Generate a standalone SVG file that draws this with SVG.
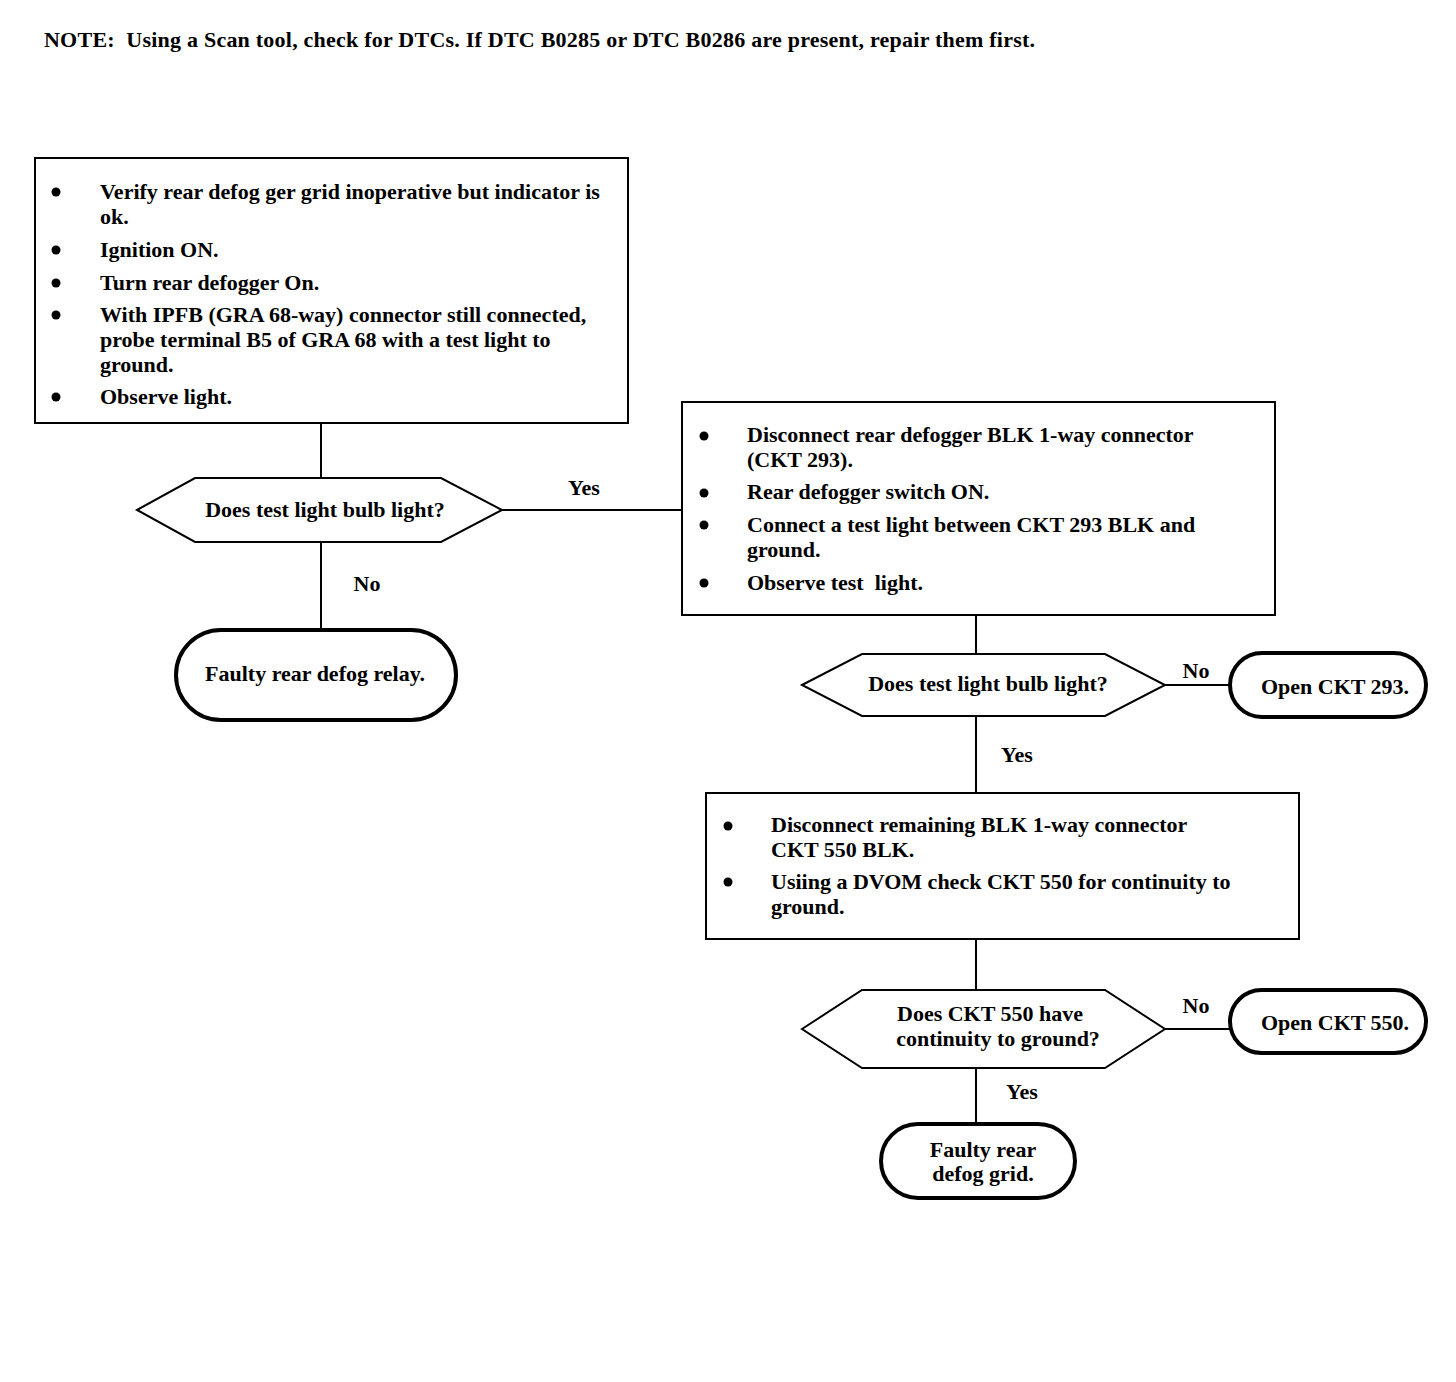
<svg xmlns="http://www.w3.org/2000/svg" width="1456" height="1382" viewBox="0 0 1456 1382">
<style>
text{font-family:"Liberation Serif","Times New Roman",serif;font-size:22px;font-weight:bold;fill:#000;white-space:pre}
.c{text-anchor:middle}
.box{fill:#fff;stroke:#000;stroke-width:2}
.dec{fill:#fff;stroke:#000;stroke-width:2}
.term{fill:#fff;stroke:#000;stroke-width:4}
.ln{stroke:#000;stroke-width:2;fill:none}
</style>
<rect width="1456" height="1382" fill="#fff"/>
<text x="44" y="47" textLength="991" lengthAdjust="spacing">NOTE:  Using a Scan tool, check for DTCs. If DTC B0285 or DTC B0286 are present, repair them first.</text>
<g id="connectors">
<path class="ln" d="M321 423V478"/>
<path class="ln" d="M502 510H682"/>
<path class="ln" d="M321 542V630"/>
<path class="ln" d="M976 615V654"/>
<path class="ln" d="M1165 685H1230"/>
<path class="ln" d="M976 716V793"/>
<path class="ln" d="M976 939V990"/>
<path class="ln" d="M1165 1029H1230"/>
<path class="ln" d="M976 1068V1125"/>
<text class="c" x="584" y="495">Yes</text>
<text class="c" x="367" y="591">No</text>
<text class="c" x="1196" y="678">No</text>
<text class="c" x="1017" y="762">Yes</text>
<text class="c" x="1196" y="1013">No</text>
<text class="c" x="1022" y="1099">Yes</text>
</g>
<g id="step1">
<rect class="box" x="35" y="158" width="593" height="265"/>
<circle cx="56" cy="192" r="4.5"/><circle cx="56" cy="250" r="4.5"/><circle cx="56" cy="283" r="4.5"/><circle cx="56" cy="315" r="4.5"/><circle cx="56" cy="397" r="4.5"/>
<text x="100" y="199">Verify rear defog ger grid inoperative but indicator is</text>
<text x="100" y="224">ok.</text>
<text x="100" y="257">Ignition ON.</text>
<text x="100" y="290">Turn rear defogger On.</text>
<text x="100" y="322">With IPFB (GRA 68-way) connector still connected,</text>
<text x="100" y="347">probe terminal B5 of GRA 68 with a test light to</text>
<text x="100" y="372">ground.</text>
<text x="100" y="404">Observe light.</text>
</g>
<g id="dec1">
<polygon class="dec" points="137,510 195,478 441,478 502,510 441,542 195,542"/>
<text class="c" x="325" y="517">Does test light bulb light?</text>
</g>
<g id="end1">
<rect class="term" x="176" y="630" width="280" height="90" rx="45"/>
<text class="c" x="315" y="681">Faulty rear defog relay.</text>
</g>
<g id="step2">
<rect class="box" x="682" y="402" width="593" height="213"/>
<circle cx="704" cy="436" r="4.5"/><circle cx="704" cy="493" r="4.5"/><circle cx="704" cy="525" r="4.5"/><circle cx="704" cy="583" r="4.5"/>
<text x="747" y="442">Disconnect rear defogger BLK 1-way connector</text>
<text x="747" y="467">(CKT 293).</text>
<text x="747" y="499">Rear defogger switch ON.</text>
<text x="747" y="532">Connect a test light between CKT 293 BLK and</text>
<text x="747" y="557">ground.</text>
<text x="747" y="590">Observe test  light.</text>
</g>
<g id="dec2">
<polygon class="dec" points="802,685 862,654 1105,654 1165,685 1105,716 862,716"/>
<text class="c" x="988" y="691">Does test light bulb light?</text>
</g>
<g id="end2">
<rect class="term" x="1230" y="653" width="196" height="64" rx="32"/>
<text class="c" x="1335" y="694">Open CKT 293.</text>
</g>
<g id="step3">
<rect class="box" x="706" y="793" width="593" height="146"/>
<circle cx="728" cy="826" r="4.5"/><circle cx="728" cy="882" r="4.5"/>
<text x="771" y="832">Disconnect remaining BLK 1-way connector</text>
<text x="771" y="857">CKT 550 BLK.</text>
<text x="771" y="889">Usiing a DVOM check CKT 550 for continuity to</text>
<text x="771" y="914">ground.</text>
</g>
<g id="dec3">
<polygon class="dec" points="802,1029 862,990 1105,990 1165,1029 1105,1068 862,1068"/>
<text class="c" x="990" y="1021">Does CKT 550 have</text>
<text class="c" x="998" y="1046">continuity to ground?</text>
</g>
<g id="end3">
<rect class="term" x="1230" y="990" width="196" height="63" rx="31.5"/>
<text class="c" x="1335" y="1030">Open CKT 550.</text>
</g>
<g id="end4">
<rect class="term" x="881" y="1124" width="194" height="74" rx="37"/>
<text class="c" x="983" y="1157">Faulty rear</text>
<text class="c" x="983" y="1181">defog grid.</text>
</g>
</svg>
